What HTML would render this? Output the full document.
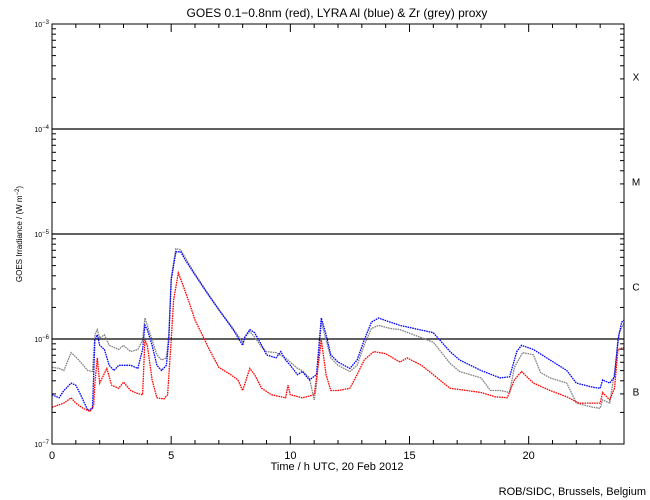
<!DOCTYPE html>
<html><head><meta charset="utf-8"><style>
body{margin:0;background:#fff}
svg{display:block;font-family:"Liberation Sans",sans-serif}
</style></head><body>
<svg id="chart" width="650" height="500" viewBox="0 0 650 500">
<text x="337" y="17" font-size="12" text-anchor="middle">GOES 0.1−0.8nm (red), LYRA Al (blue) &amp; Zr (grey) proxy</text>
<text x="337" y="470" font-size="11" text-anchor="middle">Time / h UTC, 20 Feb 2012</text>
<text x="22" y="234" font-size="8" text-anchor="middle" transform="rotate(-90 22 234)">GOES Irradiance / (W m<tspan dy="-3" font-size="6">−2</tspan><tspan dy="3">)</tspan></text>
<text x="646" y="495" font-size="11" text-anchor="end">ROB/SIDC, Brussels, Belgium</text>
<g id="grid"></g><g id="ticks"></g><g id="series"></g>
<rect x="52" y="24" width="572" height="420" fill="none" stroke="#000" stroke-width="1"/>
</svg>
<script>
const xTickLabels = ["0","5","10","15","20"];
const yExponents = [-3,-4,-5,-6,-7];
const classLabels = ["X","M","C","B"];
const redHours = [0,0.5,0.8,1.0,1.3,1.6,1.75,1.8,1.9,2.0,2.3,2.5,2.8,3.0,3.3,3.6,3.8,3.9,4.0,4.2,4.4,4.7,4.85,5.0,5.1,5.3,5.5,5.8,6.0,6.3,6.6,7.0,7.5,7.8,8.0,8.3,8.5,8.8,9.2,9.8,9.9,10.0,10.5,11.0,11.2,11.3,11.5,11.7,12.0,12.5,12.8,13.1,13.5,14.0,14.6,14.9,15.5,16.0,16.7,17.4,18.0,18.6,19.1,19.4,19.7,20.2,20.9,21.6,22.1,23.0,23.1,23.4,23.6,23.75,24];
const redLog = [-6.65,-6.61,-6.56,-6.61,-6.66,-6.69,-6.63,-6.42,-6.18,-6.42,-6.28,-6.44,-6.47,-6.41,-6.49,-6.52,-6.53,-6.01,-6.06,-6.39,-6.56,-6.57,-6.53,-6.01,-5.63,-5.37,-5.49,-5.68,-5.82,-5.96,-6.10,-6.27,-6.34,-6.39,-6.49,-6.28,-6.34,-6.47,-6.53,-6.56,-6.44,-6.53,-6.56,-6.53,-6.20,-6.01,-6.34,-6.49,-6.49,-6.47,-6.34,-6.20,-6.12,-6.14,-6.22,-6.18,-6.25,-6.34,-6.47,-6.49,-6.51,-6.55,-6.56,-6.39,-6.31,-6.42,-6.49,-6.55,-6.61,-6.61,-6.51,-6.58,-6.47,-6.10,-6.08];
const blueHours = [0,0.3,0.5,0.8,1.0,1.2,1.5,1.7,1.8,1.9,2.0,2.2,2.4,2.6,2.8,3.3,3.6,3.8,3.9,4.0,4.2,4.4,4.6,4.8,4.9,5.0,5.1,5.2,5.4,5.6,6.0,6.5,7.0,7.6,8.0,8.1,8.3,8.5,8.8,9.0,9.4,9.6,9.8,10.0,10.3,10.5,10.8,11.1,11.3,11.5,11.7,12.0,12.5,12.8,13.1,13.4,13.7,14.2,14.6,16.0,16.7,17.1,18.0,18.8,19.2,19.5,19.7,20.2,20.9,21.6,22.0,22.7,23.0,23.1,23.4,23.6,23.75,23.9,24];
const blueLog = [-6.53,-6.56,-6.49,-6.42,-6.44,-6.53,-6.68,-6.66,-6.01,-5.96,-6.06,-6.10,-6.25,-6.30,-6.25,-6.25,-6.28,-6.10,-5.87,-5.91,-6.06,-6.25,-6.30,-6.25,-6.01,-5.44,-5.30,-5.17,-5.17,-5.25,-5.39,-5.56,-5.72,-5.91,-6.06,-5.98,-5.91,-5.94,-6.06,-6.15,-6.18,-6.12,-6.20,-6.25,-6.34,-6.31,-6.39,-6.34,-5.80,-5.96,-6.15,-6.22,-6.28,-6.20,-6.01,-5.84,-5.80,-5.84,-5.87,-5.94,-6.12,-6.20,-6.30,-6.37,-6.36,-6.12,-6.06,-6.10,-6.20,-6.30,-6.42,-6.46,-6.47,-6.39,-6.42,-6.36,-6.01,-5.84,-5.82];
const greyHours = [0,0.3,0.5,0.8,1.0,1.2,1.5,1.7,1.8,1.9,2.0,2.2,2.4,2.6,2.8,3.0,3.3,3.6,3.8,3.9,4.0,4.2,4.4,4.6,4.8,4.9,5.0,5.1,5.2,5.4,5.6,6.0,6.5,7.0,7.6,8.0,8.1,8.3,8.5,8.8,9.0,9.4,9.8,10.0,10.3,10.5,10.8,11.0,11.1,11.3,11.5,11.7,12.0,12.5,12.8,13.1,13.4,13.7,14.2,14.6,16.0,16.7,17.1,18.0,18.4,18.8,19.2,19.4,19.75,20.2,20.5,20.9,21.6,22.0,22.7,23.0,23.1,23.4,23.6,23.8,24];
const greyLog = [-6.27,-6.28,-6.30,-6.13,-6.17,-6.22,-6.30,-6.31,-5.96,-5.91,-5.99,-5.96,-6.06,-6.08,-6.10,-6.06,-6.12,-6.10,-6.01,-5.80,-5.87,-6.01,-6.15,-6.20,-6.18,-5.96,-5.42,-5.27,-5.14,-5.15,-5.23,-5.38,-5.55,-5.72,-5.90,-6.03,-5.98,-5.93,-5.98,-6.08,-6.12,-6.13,-6.18,-6.22,-6.28,-6.30,-6.37,-6.58,-6.44,-5.84,-6.01,-6.18,-6.25,-6.31,-6.25,-6.06,-5.90,-5.87,-5.90,-5.91,-6.03,-6.23,-6.31,-6.37,-6.49,-6.49,-6.51,-6.27,-6.13,-6.15,-6.32,-6.37,-6.42,-6.61,-6.65,-6.66,-6.58,-6.61,-6.32,-5.94,-5.85];

const NS="http://www.w3.org/2000/svg";
const L=52,R=624,T=24,B=444;
const xs=h=>L+(h/24)*(R-L);
const ys=lg=>B-(lg+7)/4*(B-T);
function mk(tag,attrs,parent,text){const e=document.createElementNS(NS,tag);for(const k in attrs)e.setAttribute(k,attrs[k]);if(text!==undefined)e.textContent=text;parent.appendChild(e);return e;}
const grid=document.getElementById('grid'),ticks=document.getElementById('ticks'),series=document.getElementById('series');
// gridlines at 1e-4,1e-5,1e-6
[-4,-5,-6].forEach(e=>{const g=mk('line',{x1:L,x2:R,y1:ys(e),y2:ys(e),stroke:'#000','stroke-width':1.2},grid);

});
// x ticks
for(let h=0;h<=24;h++){const len=h%5===0?8:4;const x=xs(h);
mk('line',{x1:x,x2:x,y1:B,y2:B-len,stroke:'#000'},ticks);mk('line',{x1:x,x2:x,y1:T,y2:T+len,stroke:'#000'},ticks);}
xTickLabels.forEach(s=>{const t=mk('text',{x:xs(+s),y:B+15,'font-size':11,'text-anchor':'middle'},ticks,s);

});
// y ticks
for(let e=-7;e<-3;e++){for(let m=1;m<10;m++){const y=ys(e+Math.log10(m));const len=m===1?8:4;
mk('line',{x1:L,x2:L+len,y1:y,y2:y,stroke:'#000'},ticks);mk('line',{x1:R,x2:R-len,y1:y,y2:y,stroke:'#000'},ticks);}}
yExponents.forEach(e=>{const t=mk('text',{x:49,y:ys(e)+3,'font-size':7,'text-anchor':'end'},ticks);


mk('tspan',{},t,'10');mk('tspan',{dy:-3,'font-size':6},t,String(e).replace('-','−'));});
classLabels.forEach((c,i)=>{const t=mk('text',{x:636,y:ys(-3.5-i)+4,'font-size':10,'text-anchor':'middle'},ticks,c);

});
function draw(hours,vals,color,name){const pts=hours.map((h,i)=>xs(h).toFixed(1)+','+ys(vals[i]).toFixed(1)).join(' ');
const p=mk('polyline',{points:pts,fill:'none',stroke:color,'stroke-width':1.3,'stroke-dasharray':'1.6 0.8'},series);

}
draw(greyHours,greyLog,'#808080','zr-grey-series');
draw(blueHours,blueLog,'#0000ff','al-blue-series');
draw(redHours,redLog,'#ff0000','goes-red-series');
</script>
</body></html>
